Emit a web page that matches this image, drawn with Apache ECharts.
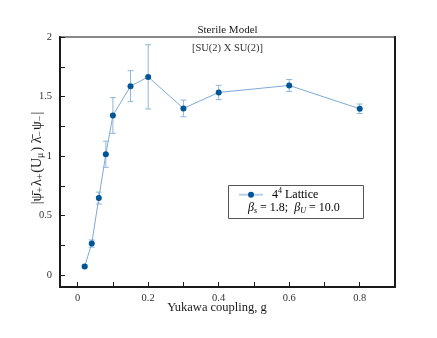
<!DOCTYPE html>
<html>
<head>
<meta charset="utf-8">
<script src="https://cdn.jsdelivr.net/npm/echarts@6/dist/echarts.min.js"></script>
<style>
html,body{margin:0;padding:0;background:#fff;}
#c{width:437px;height:338px;}
</style>
</head>
<body>
<div id="c"></div>
<script>
// ---- data ----
const couplings = [0.02, 0.04, 0.06, 0.08, 0.10, 0.15, 0.20, 0.30, 0.40, 0.60, 0.80];
const values    = [0.073, 0.265, 0.647, 1.015, 1.341, 1.587, 1.665, 1.400, 1.534, 1.593, 1.397];
const errors    = [0.012, 0.03, 0.05, 0.11, 0.15, 0.13, 0.27, 0.07, 0.06, 0.05, 0.04];
const xTicks = [0, 0.1, 0.2, 0.3, 0.4, 0.5, 0.6, 0.7, 0.8];
const xTickLabels = [0, 0.2, 0.4, 0.6, 0.8];
const yTicks = [0, 0.25, 0.5, 0.75, 1, 1.25, 1.5, 1.75, 2];
const yTickLabels = [0, 0.5, 1, 1.5, 2];
const titleText = 'Sterile Model';
const subtitleText = '[SU(2) X SU(2)]';
const xName = 'Yukawa coupling, g';

const FONT = '"Liberation Serif", "DejaVu Serif", serif';
const DARK = '#1a1a1a';
const MARK = '#005596';
const LINE = '#7ea9d4';
const ERR = '#8fb6dd';

const chart = echarts.init(document.getElementById('c'), null, {renderer: 'canvas'});

const pts = couplings.map((g, i) => [g, values[i]]);
const errData = couplings.map((g, i) => [g, values[i] - errors[i], values[i] + errors[i]]);

const sub = {fontSize: 10, fontFamily: FONT, color: DARK, padding: [7, 1, 0, 0]};
const base = {fontSize: 14, fontFamily: FONT, color: DARK};

chart.setOption({
  animation: false,
  grid: {left: 60, right: 42, top: 37, bottom: 51, show: true, borderColor: '#888', borderWidth: 2},
  xAxis: {
    type: 'value', min: -0.05, max: 0.9,
    axisLine: {show: true, onZero: false, lineStyle: {color: DARK, width: 2}},
    axisTick: {show: true, inside: true, length: 5, lineStyle: {color: DARK, width: 1}, customValues: xTicks},
    axisLabel: {customValues: xTickLabels, fontFamily: FONT, fontSize: 10.5, color: '#333', margin: 6},
    splitLine: {show: false}
  },
  yAxis: [{
    type: 'value', min: -0.1, max: 2.0,
    axisLine: {show: true, onZero: false, lineStyle: {color: DARK, width: 2}},
    axisTick: {show: true, inside: true, length: 5, lineStyle: {color: DARK, width: 1}, customValues: yTicks},
    axisLabel: {customValues: yTickLabels, fontFamily: FONT, fontSize: 10.5, color: '#333', margin: 8},
    splitLine: {show: false}
  }, {
    type: 'value', min: -0.1, max: 2.0, position: 'right',
    axisLine: {show: true, onZero: false, lineStyle: {color: DARK, width: 2}},
    axisTick: {show: false}, axisLabel: {show: false}, splitLine: {show: false}
  }],
  series: [{
    type: 'custom',
    data: errData,
    z: 2,
    renderItem: function (params, api) {
      const x = api.value(0);
      const lo = api.coord([x, api.value(1)]);
      const hi = api.coord([x, api.value(2)]);
      const w = 3;
      const st = {stroke: ERR, lineWidth: 1};
      return {type: 'group', children: [
        {type: 'line', shape: {x1: lo[0], y1: lo[1], x2: hi[0], y2: hi[1]}, style: st},
        {type: 'line', shape: {x1: lo[0] - w, y1: lo[1], x2: lo[0] + w, y2: lo[1]}, style: st},
        {type: 'line', shape: {x1: hi[0] - w, y1: hi[1], x2: hi[0] + w, y2: hi[1]}, style: st}
      ]};
    }
  }, {
    type: 'line',
    data: pts,
    z: 3,
    symbol: 'circle', symbolSize: 6,
    itemStyle: {color: MARK},
    lineStyle: {color: LINE, width: 1}
  }],
  graphic: [
    {type: 'text', x: 227.5, y: 30, style: {text: titleText, font: '11px ' + FONT, fill: DARK, align: 'center', verticalAlign: 'middle'}},
    {type: 'text', x: 227.5, y: 48, style: {text: subtitleText, font: '10.5px ' + FONT, fill: '#333', align: 'center', verticalAlign: 'middle'}},
    {type: 'text', x: 217, y: 308, style: {text: xName, font: '12.5px ' + FONT, fill: DARK, align: 'center', verticalAlign: 'middle'}},
    {type: 'text', x: 37, y: 158, rotation: Math.PI / 2, style: {
      text: '{b||}{b|ψ̄}{s|+}{b|λ}{s|+}{b|(U}{s|μ}{b|) λ̄}{s|−}{b|ψ}{s|−}{b||}',
      align: 'center', verticalAlign: 'middle',
      rich: {b: base, s: sub}, font: '14px ' + FONT, fill: DARK
    }},
    // legend
    {type: 'rect', shape: {x: 228.5, y: 185.5, width: 135, height: 33}, style: {fill: '#fff', stroke: '#555', lineWidth: 1}},
    {type: 'line', shape: {x1: 239, y1: 194.7, x2: 263, y2: 194.7}, style: {stroke: '#b7cfe8', lineWidth: 2}},
    {type: 'circle', shape: {cx: 251, cy: 194.7, r: 3}, style: {fill: MARK}},
    {type: 'text', x: 272, y: 194.7, style: {
      text: '{b|4}{p|4}{b| Lattice}', verticalAlign: 'middle',
      rich: {b: {fontSize: 12, fontFamily: FONT, color: DARK}, p: {fontSize: 8, fontFamily: FONT, color: DARK, padding: [0, 0, 7, 0]}}
    }},
    {type: 'text', x: 248, y: 208, style: {
      text: '{i|β}{s|s}{b| = 1.8;  }{i|β}{s|U}{b| = 10.0}', verticalAlign: 'middle',
      rich: {b: {fontSize: 12, fontFamily: FONT, color: DARK}, i: {fontSize: 12, fontFamily: FONT, fontStyle: 'italic', color: DARK}, s: {fontSize: 8, fontFamily: FONT, fontStyle: 'italic', color: DARK, padding: [6, 0, 0, 0]}}
    }}
  ]
});
</script>
</body>
</html>
